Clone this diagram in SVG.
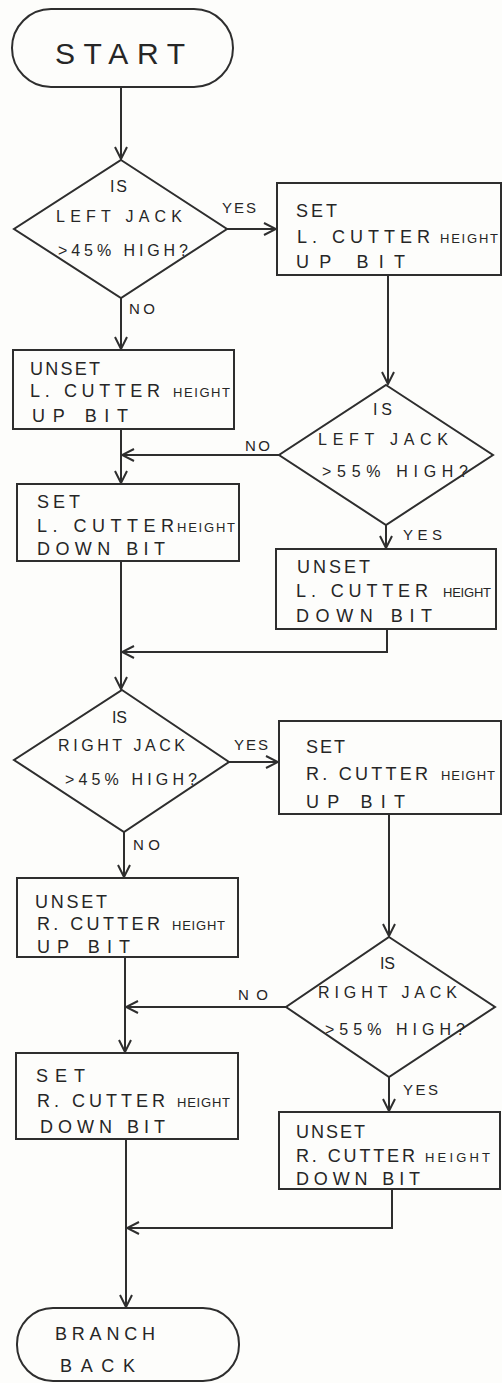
<svg xmlns="http://www.w3.org/2000/svg" width="502" height="1383" viewBox="0 0 502 1383">
<style>
.bg{fill:#fdfdfb}
.shape{fill:none;stroke:#2e2e2e;stroke-width:2}
.conn{fill:none;stroke:#2e2e2e;stroke-width:2}
text{font-family:"Liberation Sans","DejaVu Sans",sans-serif;fill:#262626}
.t{font-size:18px}
.s{font-size:13px}
.d{font-size:16px}
.l{font-size:15px}
.big{font-size:30px}
</style>
<defs>
<marker id="arr" markerUnits="userSpaceOnUse" markerWidth="14" markerHeight="14" viewBox="0 0 14 14" refX="13" refY="7" orient="auto">
<polyline points="1,1 13,7 1,13" fill="none" stroke="#2e2e2e" stroke-width="2"/>
</marker>
</defs>
<rect class="bg" x="0" y="0" width="502" height="1383"/>

<g id="connectors">
<line class="conn" x1="121" y1="88" x2="121" y2="159" marker-end="url(#arr)"/>
<line class="conn" x1="227" y1="229" x2="276" y2="229" marker-end="url(#arr)"/>
<line class="conn" x1="121" y1="298" x2="121" y2="349" marker-end="url(#arr)"/>
<line class="conn" x1="388" y1="275" x2="388" y2="384" marker-end="url(#arr)"/>
<line class="conn" x1="279" y1="455" x2="122" y2="455" marker-end="url(#arr)"/>
<line class="conn" x1="121" y1="429" x2="121" y2="483" marker-end="url(#arr)"/>
<line class="conn" x1="386" y1="525" x2="386" y2="548" marker-end="url(#arr)"/>
<line class="conn" x1="121" y1="561" x2="121" y2="689" marker-end="url(#arr)"/>
<polyline class="conn" points="387,629 387,652 122,652" marker-end="url(#arr)"/>
<line class="conn" x1="229" y1="762" x2="278" y2="762" marker-end="url(#arr)"/>
<line class="conn" x1="124" y1="832" x2="124" y2="877" marker-end="url(#arr)"/>
<line class="conn" x1="389" y1="814" x2="389" y2="936" marker-end="url(#arr)"/>
<line class="conn" x1="286" y1="1007" x2="126" y2="1007" marker-end="url(#arr)"/>
<line class="conn" x1="125" y1="957" x2="125" y2="1052" marker-end="url(#arr)"/>
<line class="conn" x1="389" y1="1077" x2="389" y2="1111" marker-end="url(#arr)"/>
<polyline class="conn" points="392,1189 392,1228 127,1228" marker-end="url(#arr)"/>
<line class="conn" x1="126" y1="1139" x2="126" y2="1307" marker-end="url(#arr)"/>
</g>

<g id="start">
<rect class="shape" x="12" y="9" width="221" height="78" rx="39"/>
<text class="big" x="55" y="64" textLength="130" lengthAdjust="spacing">START</text>
</g>

<g id="dec1">
<polygon class="shape" points="121,160 227,229 121,298 14,229"/>
<text class="d" x="110" y="192" textLength="17" lengthAdjust="spacing">IS</text>
<text class="d" x="56" y="222" textLength="126" lengthAdjust="spacing">LEFT JACK</text>
<text class="d" x="58" y="256" textLength="130" lengthAdjust="spacing">&gt;45% HIGH?</text>
<text class="l" x="222" y="213" textLength="34" lengthAdjust="spacing">YES</text>
<text class="l" x="129" y="314" textLength="26" lengthAdjust="spacing">NO</text>
</g>

<g id="box1">
<rect class="shape" x="277" y="183" width="224" height="92"/>
<text class="t" x="296" y="217" textLength="41" lengthAdjust="spacing">SET</text>
<text class="t" x="297" y="243" textLength="133" lengthAdjust="spacing">L. CUTTER</text>
<text class="s" x="440" y="243" textLength="58" lengthAdjust="spacing">HEIGHT</text>
<text class="t" x="296" y="268" textLength="109" lengthAdjust="spacing">UP BIT</text>
</g>

<g id="box2">
<rect class="shape" x="13" y="350" width="221" height="79"/>
<text class="t" x="30" y="375" textLength="70" lengthAdjust="spacing">UNSET</text>
<text class="t" x="30" y="397" textLength="130" lengthAdjust="spacing">L. CUTTER</text>
<text class="s" x="173" y="397" textLength="57" lengthAdjust="spacing">HEIGHT</text>
<text class="t" x="32" y="422" textLength="96" lengthAdjust="spacing">UP BIT</text>
</g>

<g id="dec2">
<polygon class="shape" points="386,385 493,455 386,525 279,455"/>
<text class="d" x="373" y="415" textLength="19" lengthAdjust="spacing">IS</text>
<text class="d" x="318" y="445" textLength="130" lengthAdjust="spacing">LEFT JACK</text>
<text class="d" x="322" y="477" textLength="146" lengthAdjust="spacing">&gt;55% HIGH?</text>
<text class="l" x="245" y="451" textLength="25" lengthAdjust="spacing">NO</text>
<text class="l" x="403" y="540" textLength="39" lengthAdjust="spacing">YES</text>
</g>

<g id="box3">
<rect class="shape" x="17" y="484" width="222" height="77"/>
<text class="t" x="37" y="508" textLength="43" lengthAdjust="spacing">SET</text>
<text class="t" x="37" y="532" textLength="137" lengthAdjust="spacing">L. CUTTER</text>
<text class="s" x="177" y="532" textLength="58" lengthAdjust="spacing">HEIGHT</text>
<text class="t" x="37" y="555" textLength="128" lengthAdjust="spacing">DOWN BIT</text>
</g>

<g id="box4">
<rect class="shape" x="276" y="549" width="220" height="80"/>
<text class="t" x="297" y="573" textLength="73" lengthAdjust="spacing">UNSET</text>
<text class="t" x="296" y="597" textLength="132" lengthAdjust="spacing">L. CUTTER</text>
<text class="s" x="443" y="597" textLength="48" lengthAdjust="spacing">HEIGHT</text>
<text class="t" x="296" y="622" textLength="136" lengthAdjust="spacing">DOWN BIT</text>
</g>

<g id="dec3">
<polygon class="shape" points="122,690 229,762 124,832 14,760"/>
<text class="d" x="112" y="723" textLength="15" lengthAdjust="spacing">IS</text>
<text class="d" x="58" y="751" textLength="127" lengthAdjust="spacing">RIGHT JACK</text>
<text class="d" x="65" y="785" textLength="132" lengthAdjust="spacing">&gt;45% HIGH?</text>
<text class="l" x="234" y="750" textLength="34" lengthAdjust="spacing">YES</text>
<text class="l" x="133" y="850" textLength="27" lengthAdjust="spacing">NO</text>
</g>

<g id="box5">
<rect class="shape" x="279" y="721" width="222" height="93"/>
<text class="t" x="306" y="753" textLength="39" lengthAdjust="spacing">SET</text>
<text class="t" x="306" y="780" textLength="122" lengthAdjust="spacing">R. CUTTER</text>
<text class="s" x="441" y="780" textLength="54" lengthAdjust="spacing">HEIGHT</text>
<text class="t" x="306" y="808" textLength="99" lengthAdjust="spacing">UP BIT</text>
</g>

<g id="box6">
<rect class="shape" x="17" y="878" width="221" height="79"/>
<text class="t" x="35" y="908" textLength="72" lengthAdjust="spacing">UNSET</text>
<text class="t" x="37" y="930" textLength="123" lengthAdjust="spacing">R. CUTTER</text>
<text class="s" x="172" y="930" textLength="53" lengthAdjust="spacing">HEIGHT</text>
<text class="t" x="37" y="953" textLength="93" lengthAdjust="spacing">UP BIT</text>
</g>

<g id="dec4">
<polygon class="shape" points="389,937 495,1007 389,1077 286,1007"/>
<text class="d" x="380" y="969" textLength="15" lengthAdjust="spacing">IS</text>
<text class="d" x="318" y="998" textLength="139" lengthAdjust="spacing">RIGHT JACK</text>
<text class="d" x="325" y="1035" textLength="140" lengthAdjust="spacing">&gt;55% HIGH?</text>
<text class="l" x="238" y="1000" textLength="30" lengthAdjust="spacing">NO</text>
<text class="l" x="403" y="1095" textLength="35" lengthAdjust="spacing">YES</text>
</g>

<g id="box7">
<rect class="shape" x="16" y="1053" width="222" height="86"/>
<text class="t" x="36" y="1082" textLength="49" lengthAdjust="spacing">SET</text>
<text class="t" x="37" y="1107" textLength="128" lengthAdjust="spacing">R. CUTTER</text>
<text class="s" x="177" y="1107" textLength="53" lengthAdjust="spacing">HEIGHT</text>
<text class="t" x="40" y="1133" textLength="125" lengthAdjust="spacing">DOWN BIT</text>
</g>

<g id="box8">
<rect class="shape" x="279" y="1112" width="221" height="77"/>
<text class="t" x="296" y="1138" textLength="69" lengthAdjust="spacing">UNSET</text>
<text class="t" x="296" y="1162" textLength="119" lengthAdjust="spacing">R. CUTTER</text>
<text class="s" x="425" y="1162" textLength="65" lengthAdjust="spacing">HEIGHT</text>
<text class="t" x="296" y="1185" textLength="124" lengthAdjust="spacing">DOWN BIT</text>
</g>

<g id="end">
<rect class="shape" x="17" y="1308" width="222" height="73" rx="36"/>
<text class="t" x="55" y="1340" textLength="100" lengthAdjust="spacing">BRANCH</text>
<text class="t" x="60" y="1372" textLength="75" lengthAdjust="spacing">BACK</text>
</g>
</svg>
